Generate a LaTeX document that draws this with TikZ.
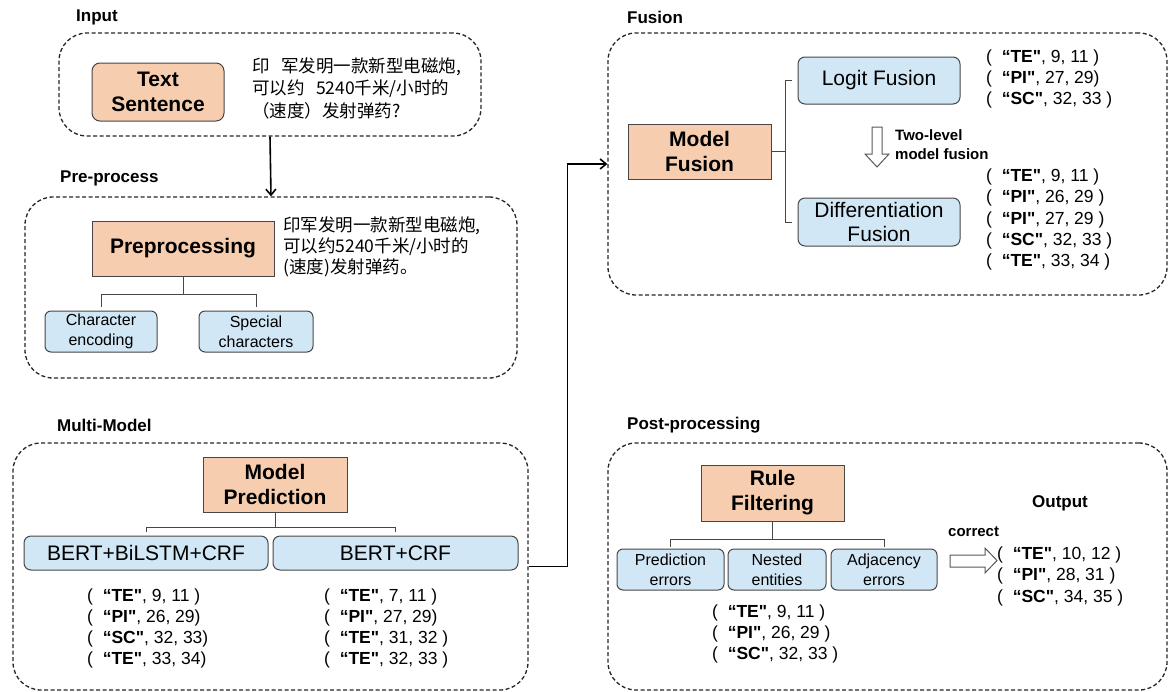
\documentclass[tikz,border=0pt]{standalone}
\usepackage{fontspec}
\setmainfont{Liberation Sans}
\newfontfamily\cjk{Noto Sans CJK SC}
\usetikzlibrary{arrows.meta}
\definecolor{peach}{RGB}{247,205,176}
\definecolor{skyblue}{RGB}{209,231,246}
\definecolor{edge}{RGB}{70,70,70}
\newcommand{\tup}[2]{(\ \ \textbf{“#1\textquotedbl}, #2}

\begin{document}
\begin{tikzpicture}[x=1pt,y=-1pt,
  group/.style={draw=black!85,line width=1.3pt,dash pattern=on 4pt off 2.5pt,rounded corners=28pt,inner sep=0pt},
  title/.style={font=\fontsize{17}{20}\selectfont\bfseries,anchor=west,inner sep=0pt},
  stage/.style={draw=edge,fill=peach,line width=1pt,align=center,inner sep=0pt,font=\fontsize{21}{25}\selectfont\bfseries},
  model/.style={draw=edge,fill=skyblue,line width=1pt,rounded corners=7pt,align=center,inner sep=0pt,font=\fontsize{21}{24}\selectfont},
  item/.style={draw=edge,fill=skyblue,line width=1pt,rounded corners=6pt,align=center,inner sep=0pt,font=\fontsize{16}{20}\selectfont},
  tuple/.style={anchor=west,inner sep=0pt,font=\fontsize{17.5}{21}\selectfont},
  zh/.style={anchor=west,inner sep=0pt,font=\cjk\fontsize{17.5}{21}\selectfont},
  tree/.style={draw=edge,line width=1pt},
  flow/.style={draw=black,line width=1.6pt,-{Straight Barb[length=6pt,width=10pt]}},
  hollow/.style={draw=black!65,fill=white,line width=1pt},
  note/.style={font=\fontsize{15}{19}\selectfont\bfseries,inner sep=0pt}]

  \useasboundingbox (0,0) rectangle (1172,691);

  % group frames
  \node[group,minimum width=422pt,minimum height=103pt] (inbox) at (270,84.5) {};
  \node[group,minimum width=492pt,minimum height=181pt] (prebox) at (271,287.5) {};
  \node[group,minimum width=515pt,minimum height=247pt] (mmbox) at (270.5,566.5) {};
  \node[group,minimum width=559pt,minimum height=262pt] (fusbox) at (887.5,164) {};
  \node[group,minimum width=559pt,minimum height=247pt] (postbox) at (887.5,566.5) {};

  \node[title] (inlbl) at (76,17) {Input};
  \node[title] (prelbl) at (60,178) {Pre-process};
  \node[title] (mmlbl) at (57,425) {Multi-Model};
  \node[title] (fuslbl) at (627,17) {Fusion};
  \node[title] (postlbl) at (627,425) {Post-processing};

  % input
  \node[stage,rounded corners=8pt,minimum width=132pt,minimum height=58pt] (txt) at (158,92) {Text\\Sentence};
  \node[zh] (in1) at (252,67) {印\hspace{0.65em}军发明一款新型电磁炮,};
  \node[zh] (in2) at (252,89) {可以约\hspace{0.65em}5240千米/小时的};
  \node[zh] (in3) at (252,111) {（速度）发射弹药?};

  % pre-process
  \node[stage,minimum width=182pt,minimum height=55pt] (prep) at (183,248.5) {Preprocessing};
  \node[zh] (pp1) at (283,226) {印军发明一款新型电磁炮,};
  \node[zh] (pp2) at (283,247) {可以约5240千米/小时的};
  \node[zh] (pp3) at (283,268) {(速度)发射弹药。};
  \node[item,minimum width=112pt,minimum height=41pt] (enc) at (101,331.5) {Character\\encoding};
  \node[item,minimum width=114pt,minimum height=41pt] (spec) at (256,331.5) {Special\\characters};
  \draw[tree] (prep.south) -- ++(0,18) coordinate (pj) -| ([yshift=4pt]enc.north);
  \draw[tree] (pj) -| ([yshift=4pt]spec.north);

  % multi-model
  \node[stage,minimum width=144pt,minimum height=55pt] (mpred) at (275,484.5) {Model\\Prediction};
  \node[model,minimum width=244pt,minimum height=34pt] (bbc) at (146,553) {BERT+BiLSTM+CRF};
  \node[model,minimum width=245pt,minimum height=34pt] (bc) at (395.5,553) {BERT+CRF};
  \draw[tree] (mpred.south) -- ++(0,15) coordinate (mj) -| ([yshift=4pt]bbc.north);
  \draw[tree] (mj) -| ([yshift=4pt]bc.north);
  \foreach \t [count=\i] in {{\tup{TE}{9, 11 )}},{\tup{PI}{26, 29)}},{\tup{SC}{32, 33)}},{\tup{TE}{33, 34)}}}
    \node[tuple] (bl\i) at (87,576+21*\i) {\t};
  \foreach \t [count=\i] in {{\tup{TE}{7, 11 )}},{\tup{PI}{27, 29)}},{\tup{TE}{31, 32 )}},{\tup{TE}{32, 33 )}}}
    \node[tuple] (br\i) at (324,576+21*\i) {\t};

  % fusion
  \node[stage,minimum width=143pt,minimum height=55pt] (mfus) at (699.5,151.5) {Model\\Fusion};
  \node[model,minimum width=162pt,minimum height=47pt] (logit) at (879,80.5) {Logit Fusion};
  \node[model,minimum width=162pt,minimum height=48pt] (diff) at (879,222) {Differentiation\\Fusion};
  \draw[tree] (mfus.east) -- ++(14,0) coordinate (fj);
  \draw[tree] ([xshift=-6pt]logit.west) -| (fj) |- ([xshift=-6pt]diff.west);
  \draw[hollow] (872,127) -- (882,127) -- (882,154) -- (889,154) -- (877,167) -- (865,154) -- (872,154) -- cycle;
  \node[note,anchor=west,align=left] (twolv) at (895,144.5) {Two-level\\model fusion};
  \foreach \t [count=\i] in {{\tup{TE}{9, 11 )}},{\tup{PI}{27, 29)}},{\tup{SC}{32, 33 )}}}
    \node[tuple] (lg\i) at (986,37+21*\i) {\t};
  \foreach \t [count=\i] in {{\tup{TE}{9, 11 )}},{\tup{PI}{26, 29 )}},{\tup{PI}{27, 29 )}},{\tup{SC}{32, 33 )}},{\tup{TE}{33, 34 )}}}
    \node[tuple] (df\i) at (986,155.75+21.25*\i) {\t};

  % post-processing
  \node[stage,minimum width=143pt,minimum height=56pt] (rule) at (772.5,493) {Rule\\Filtering};
  \node[item,minimum width=107pt,minimum height=41pt] (perr) at (670.5,569.5) {Prediction\\errors};
  \node[item,minimum width=98pt,minimum height=41pt] (nest) at (777,569.5) {Nested\\entities};
  \node[item,minimum width=106pt,minimum height=41pt] (adj) at (884,569.5) {Adjacency\\errors};
  \draw[tree] (rule.south) -- ++(0,18) coordinate (rj) -| ([yshift=2pt]perr.north);
  \draw[tree] (rj) -| ([yshift=2pt]adj.north);
  \foreach \t [count=\i] in {{\tup{TE}{9, 11 )}},{\tup{PI}{26, 29 )}},{\tup{SC}{32, 33 )}}}
    \node[tuple] (pt\i) at (712,592+21*\i) {\t};
  \node[title,anchor=center] (outlbl) at (1060,503) {Output};
  \node[note,anchor=west] (corr) at (948,532) {correct};
  \draw[hollow] (950,555) -- (985,555) -- (985,548) -- (997,560.5) -- (985,573) -- (985,567) -- (950,567) -- cycle;
  \foreach \t [count=\i] in {{\tup{TE}{10, 12 )}},{\tup{PI}{28, 31 )}},{\tup{SC}{34, 35 )}}}
    \node[tuple] (out\i) at (997,533+21.5*\i) {\t};

  % flow between stages
  \draw[flow] (inbox.south) -- (prebox.north);
  \draw[flow] (mmbox.east) -- ++(39,0) |- (fusbox.west);
\end{tikzpicture}
\end{document}
